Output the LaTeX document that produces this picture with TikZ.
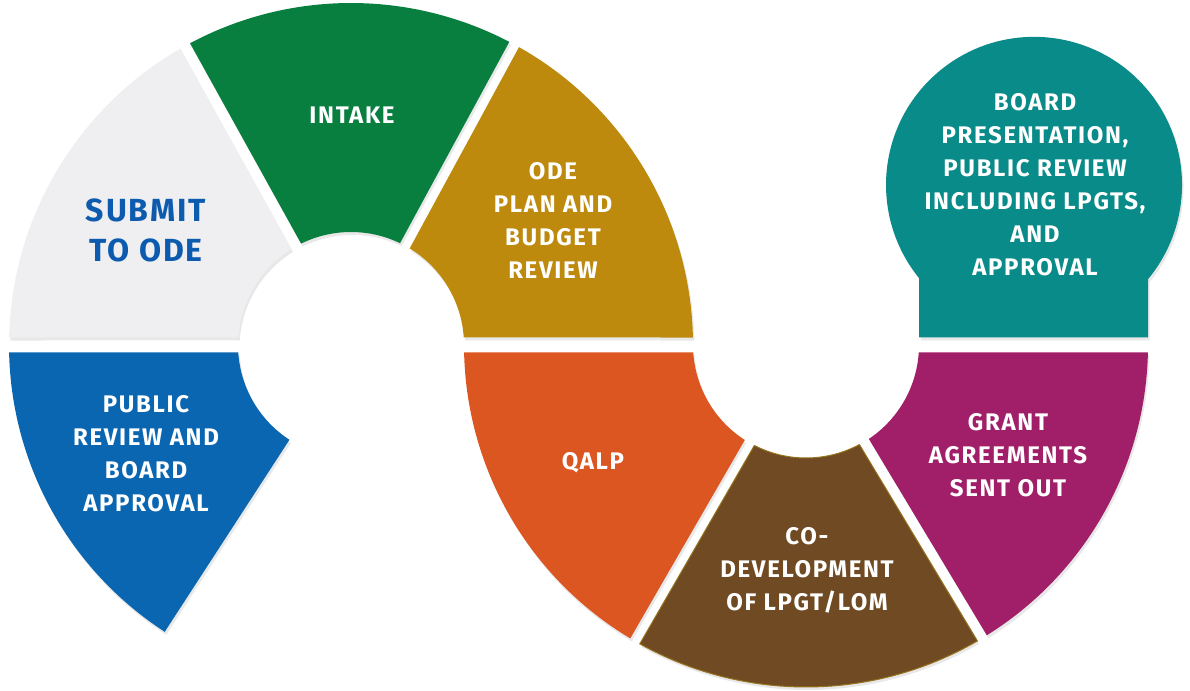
\documentclass[tikz,border=0pt]{standalone}
\usepackage{fontspec}
\setmainfont{Fira Sans}
\usetikzlibrary{shadows}
\definecolor{cSubmit}{RGB}{239,239,241}
\definecolor{cSubmitTxt}{RGB}{13,91,175}
\definecolor{cIntake}{RGB}{8,127,63}
\definecolor{cOde}{RGB}{189,138,14}
\definecolor{cPublic}{RGB}{10,102,176}
\definecolor{cQalp}{RGB}{220,86,34}
\definecolor{cBrown}{RGB}{111,74,34}
\definecolor{cBrownEdge}{RGB}{150,115,30}
\definecolor{cGrant}{RGB}{161,30,104}
\definecolor{cTeal}{RGB}{9,140,137}
\def\rin{113}
\def\rout{342}
\newcommand\ringsector[7]{%
  \pgfmathsetmacro\aAo{#3+asin(#5/\rout)}%
  \pgfmathsetmacro\aBo{#4-asin(#6/\rout)}%
  \pgfmathsetmacro\aAi{#3+asin(#5/\rin)}%
  \pgfmathsetmacro\aBi{#4-asin(#6/\rin)}%
  \path[#7,shift={(#1,#2)}] (\aAo:\rout) arc[start angle=\aAo,end angle=\aBo,radius=\rout]
    -- (\aBi:\rin) arc[start angle=\aBi,end angle=\aAi,radius=\rin] -- cycle;%
}
\tikzset{
  seg/.style={fill=#1, drop shadow={shadow xshift=1.5pt,shadow yshift=-3pt,opacity=0.18}},
  lbl/.style={align=center, text=white, font=\bfseries\fontsize{24}{33}\selectfont\addfontfeature{LetterSpace=7}, inner sep=0pt},
}
\begin{document}
\begin{tikzpicture}[x=1pt,y=1pt]
\useasboundingbox (0,0) rectangle (1190,690);
% upper ring, centre (351,345)
\ringsector{351}{345}{180}{237}{7.5}{0}{seg=cPublic}
\ringsector{351}{345}{119}{180}{5.5}{7.5}{seg=cSubmit}
\ringsector{351}{345}{61.5}{119}{5.5}{5.5}{seg=cIntake}
\ringsector{351}{345}{0}{61.5}{7.5}{5.5}{seg=cOde}
% lower ring, centre (806,345)
\ringsector{806}{345}{180}{240}{7.5}{5.5}{seg=cQalp}
\ringsector{806}{345}{240}{301}{5.5}{5.5}{seg=cBrown,draw=cBrownEdge,line width=1}
\ringsector{806}{345}{301}{360}{5.5}{7.5}{seg=cGrant}
% board presentation dome
\path[seg=cTeal] (919,352.5) -- (919,412) arc[start angle=219.0,end angle=-39.6,radius=148] -- (1148,352.5) -- cycle;
% labels
\node[lbl, text=cSubmitTxt, font=\bfseries\fontsize{32}{40}\selectfont\addfontfeature{LetterSpace=6}] (submit) at (146,460) {SUBMIT\\TO ODE};
\node[lbl] (intake) at (352,575) {INTAKE};
\node[lbl] (ode) at (553,470) {ODE\\PLAN AND\\BUDGET\\REVIEW};
\node[lbl] (public) at (146,236) {PUBLIC\\REVIEW AND\\BOARD\\APPROVAL};
\node[lbl] (qalp) at (593,227) {QALP};
\node[lbl] (codev) at (807,120) {CO-\\DEVELOPMENT\\OF LPGT/LOM};
\node[lbl] (grant) at (1008,235) {GRANT\\AGREEMENTS\\SENT OUT};
\node[lbl] (board) at (1035,505) {BOARD\\PRESENTATION,\\PUBLIC REVIEW\\INCLUDING LPGTS,\\AND\\APPROVAL};
\end{tikzpicture}
\end{document}
